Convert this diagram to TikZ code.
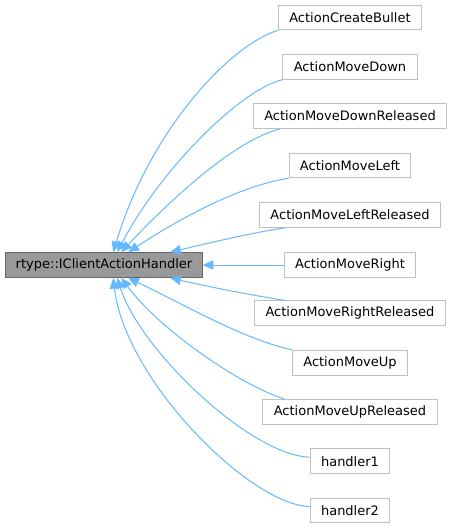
\documentclass[tikz,border=0pt]{standalone}
\usepackage{fontspec}
\setmainfont{DejaVu Sans}
\usetikzlibrary{arrows.meta,calc}

\definecolor{edgeblue}{HTML}{63B8FF}
\definecolor{boxgray}{HTML}{BFBFBF}
\definecolor{rootfill}{HTML}{999999}
\definecolor{rootline}{HTML}{666666}

\begin{document}
\begin{tikzpicture}[x=0.75pt, y=-0.75pt, line width=0.75pt,
    every node/.style={font=\fontsize{9.75}{11}\selectfont},
    cls/.style={draw=boxgray, fill=white, minimum height=18.6pt, inner xsep=8.2pt, inner ysep=0pt},
    rootbox/.style={cls, draw=rootline, fill=rootfill, inner xsep=7.5pt},
    inh/.style={draw=edgeblue, -{Triangle[length=8pt, width=7pt]}}]
          \useasboundingbox (0,0) rectangle (453,529);

          \node[rootbox] (root) at (104,265) {rtype::IClientActionHandler};

          \node[cls] (cbullet) at (350,17.5) {ActionCreateBullet};
          \node[cls] (mdown) at (350,66.8) {ActionMoveDown};
          \node[cls] (mdownrel) at (350,116.1) {ActionMoveDownReleased};
          \node[cls] (mleft) at (350,165.4) {ActionMoveLeft};
          \node[cls] (mleftrel) at (350,214.7) {ActionMoveLeftReleased};
          \node[cls] (mright) at (350,265) {ActionMoveRight};
          \node[cls] (mrightrel) at (350,313.3) {ActionMoveRightReleased};
          \node[cls] (mup) at (350,362.6) {ActionMoveUp};
          \node[cls] (muprel) at (350,411.9) {ActionMoveUpReleased};
          \node[cls] (hone) at (350,461.2) {handler1};
          \node[cls] (htwo) at (350,510.5) {handler2};

          % edges above the base class
          \draw[inh] (cbullet.south west) .. controls (230,45) and (150,130) .. ($(root.north west)+(108,0)$);
          \draw[inh] (mdown.south west) .. controls (240,90) and (160,170) .. ($(root.north west)+(112,0)$);
          \draw[inh] ($(mdownrel.south west)+(27,0)$) .. controls (235,140) and (170,200) .. ($(root.north west)+(116,0)$);
          \draw[inh] (mleft.south west) .. controls (245,185) and (190,212) .. ($(root.north west)+(123,0)$);
          \draw[inh] ($(mleftrel.south west)+(27,0)$) .. controls (250,233) and (205,244) .. ($(root.north west)+(165,0)$);

          \draw[inh] (mright.west) -- (root.east);

          % edges below the base class
          \draw[inh] ($(mrightrel.north west)+(31,0)$) .. controls (250,295) and (205,286) .. ($(root.south west)+(165,0)$);
          \draw[inh] (mup.north west) .. controls (245,340) and (185,305) .. ($(root.south west)+(123,0)$);
          \draw[inh] ($(muprel.north west)+(22,0)$) .. controls (240,385) and (160,330) .. ($(root.south west)+(116,0)$);
          \draw[inh] ($(hone.west)+(0,-4)$) .. controls (250,455) and (140,350) .. ($(root.south west)+(112,0)$);
          \draw[inh] ($(htwo.west)+(0,-4)$) .. controls (250,505) and (125,380) .. ($(root.south west)+(108,0)$);
        \end{tikzpicture}
\end{document}
